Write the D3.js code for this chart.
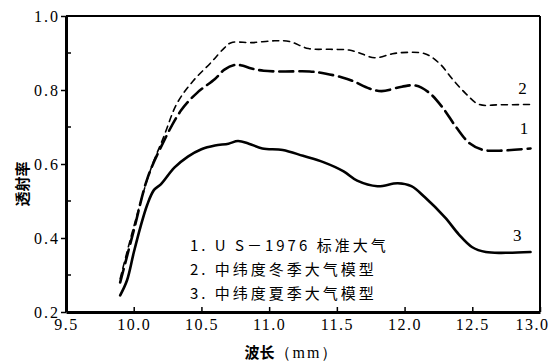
<!DOCTYPE html>
<html>
<head>
<meta charset="utf-8">
<script src="https://cdn.jsdelivr.net/npm/d3@7"></script>
<style>
  body { margin: 0; background: #fff; }
  text { fill: #000; }
</style>
</head>
<body>
<script>
// wavelength / transmittance
var wl1 = [9.9, 10.0, 10.1, 10.2, 10.35, 10.47, 10.6, 10.67, 10.75, 10.8, 10.87, 10.96, 11.1, 11.3, 11.42, 11.54, 11.62, 11.74, 11.83, 11.98, 12.08, 12.18, 12.28, 12.38, 12.48, 12.58, 12.7, 12.93];
var tr1 = [0.28, 0.42, 0.56, 0.645, 0.745, 0.793, 0.83, 0.855, 0.868, 0.866, 0.858, 0.852, 0.85, 0.85, 0.844, 0.834, 0.824, 0.804, 0.797, 0.809, 0.812, 0.793, 0.753, 0.70, 0.656, 0.638, 0.636, 0.642];

var wl2 = [9.9, 10.0, 10.12, 10.22, 10.32, 10.44, 10.57, 10.67, 10.72, 10.87, 11.04, 11.15, 11.29, 11.45, 11.59, 11.66, 11.78, 11.9, 11.98, 12.15, 12.26, 12.35, 12.45, 12.55, 12.7, 12.93];
var tr2 = [0.29, 0.43, 0.58, 0.672, 0.764, 0.825, 0.874, 0.914, 0.928, 0.928, 0.933, 0.931, 0.912, 0.91, 0.908, 0.901, 0.887, 0.897, 0.901, 0.898, 0.871, 0.831, 0.791, 0.761, 0.76, 0.761];

var wl3 = [9.9, 9.95, 10.0, 10.05, 10.1, 10.15, 10.2, 10.3, 10.4, 10.5, 10.6, 10.7, 10.77, 10.85, 10.95, 11.1, 11.25, 11.4, 11.55, 11.65, 11.8, 11.95, 12.05, 12.15, 12.3, 12.4, 12.5, 12.6, 12.75, 12.93];
var tr3 = [0.245, 0.285, 0.36, 0.43, 0.49, 0.53, 0.545, 0.59, 0.62, 0.64, 0.65, 0.655, 0.662, 0.655, 0.642, 0.638, 0.622, 0.605, 0.58, 0.555, 0.54, 0.548, 0.54, 0.51, 0.455, 0.41, 0.375, 0.362, 0.36, 0.362];

var xTicks = [9.5, 10.0, 10.5, 11.0, 11.5, 12.0, 12.5, 13.0];
var yTicks = [0.2, 0.4, 0.6, 0.8, 1.0];
var yMinor = [0.3, 0.5, 0.7, 0.9];
var legendLines = ["1. U S－1976 标准大气", "2. 中纬度冬季大气模型", "3. 中纬度夏季大气模型"];
var curveNames = ["1", "2", "3"];

var width = 551, height = 364;
var margin = {top: 16, right: 11, bottom: 52, left: 66};

var serif = "'Times New Roman', 'Liberation Serif', 'DejaVu Serif', serif";
var cjk = "'Noto Sans CJK SC', sans-serif";

var svg = d3.select("body").append("svg")
    .attr("width", width)
    .attr("height", height);

var x = d3.scaleLinear().domain([9.5, 13.0]).range([margin.left, width - margin.right]);
var y = d3.scaleLinear().domain([0.2, 1.0]).range([height - margin.bottom, margin.top]);

// frame top / right
svg.append("line").attr("x1", x(9.5)).attr("x2", x(13)).attr("y1", y(1)).attr("y2", y(1))
    .attr("stroke", "#000").attr("stroke-width", 2);
svg.append("line").attr("x1", x(13)).attr("x2", x(13)).attr("y1", y(1)).attr("y2", y(0.2))
    .attr("stroke", "#000").attr("stroke-width", 2);

// bottom axis (inward ticks)
var xAxis = d3.axisBottom(x).tickValues(xTicks).tickFormat(d3.format(".1f"))
    .tickSizeInner(-5).tickSizeOuter(0).tickPadding(9);
var gx = svg.append("g").attr("transform", "translate(0," + y(0.2) + ")").call(xAxis)
    .attr("font-family", serif).attr("font-size", 16);
gx.select(".domain").attr("stroke-width", 3);
gx.selectAll(".tick line").attr("stroke-width", 1.5);
gx.selectAll("text").style("font-family", serif)
    .style("letter-spacing", "1.5px").attr("dy", "0.55em")
    .attr("dx", function (d) { return d === 13 ? -8 : 0; });

// left axis (outward major ticks)
var yAxis = d3.axisLeft(y).tickValues(yTicks).tickFormat(d3.format(".1f"))
    .tickSizeInner(5).tickSizeOuter(0).tickPadding(1);
var gy = svg.append("g").attr("transform", "translate(" + x(9.5) + ",0)").call(yAxis)
    .attr("font-family", serif).attr("font-size", 16);
gy.select(".domain").attr("stroke-width", 3);
gy.selectAll(".tick line").attr("stroke-width", 1.5);
gy.selectAll("text").style("font-family", serif).style("letter-spacing", "2px");

// minor inward ticks on left axis
svg.append("g").selectAll("line").data(yMinor).enter().append("line")
    .attr("x1", x(9.5)).attr("x2", x(9.5) + 5)
    .attr("y1", function (d) { return y(d); })
    .attr("y2", function (d) { return y(d); })
    .attr("stroke", "#000").attr("stroke-width", 1.5);

// curves
var line = d3.line()
    .x(function (d) { return x(d[0]); })
    .y(function (d) { return y(d[1]); })
    .curve(d3.curveCatmullRom.alpha(0.5));

var series = [
    {w: wl1, t: tr1, dash: "14,6", sw: 2.6},
    {w: wl2, t: tr2, dash: "6,5", sw: 1.6},
    {w: wl3, t: tr3, dash: null, sw: 2.6}
];
series.forEach(function (s) {
    var pts = d3.zip(s.w, s.t);
    svg.append("path").datum(pts)
        .attr("d", line)
        .attr("fill", "none")
        .attr("stroke", "#000")
        .attr("stroke-width", s.sw)
        .attr("stroke-dasharray", s.dash)
        .attr("stroke-linecap", "round");
});

// curve numbers at the right end
var labelPos = [[12.85, 0.681], [12.84, 0.788], [12.8, 0.393]];
svg.append("g").selectAll("text").data(curveNames).enter().append("text")
    .attr("x", function (d, i) { return x(labelPos[i][0]); })
    .attr("y", function (d, i) { return y(labelPos[i][1]); })
    .style("font-family", serif)
    .style("font-size", "17px")
    .text(function (d) { return d; });

// legend
svg.append("g").selectAll("text").data(legendLines).enter().append("text")
    .attr("x", 190)
    .attr("y", function (d, i) { return 251 + i * 24; })
    .style("font-family", cjk)
    .style("font-size", "15px")
    .style("letter-spacing", "3px")
    .text(function (d) { return d; });

// axis titles
svg.append("text")
    .attr("transform", "translate(28,184) rotate(-90)")
    .attr("text-anchor", "middle")
    .style("font-family", cjk)
    .style("font-size", "15px").style("font-weight", "bold")
    .text("透射率");

var xt = svg.append("text")
    .attr("x", 292).attr("y", 358)
    .attr("text-anchor", "middle")
    .style("font-family", cjk)
    .style("font-size", "15px").style("font-weight", "bold");
xt.append("tspan").text("波长");
xt.append("tspan").style("font-family", serif).style("font-weight", "normal").style("font-size", "16px")
    .style("letter-spacing", "2px").text("（mm）");
</script>
</body>
</html>
